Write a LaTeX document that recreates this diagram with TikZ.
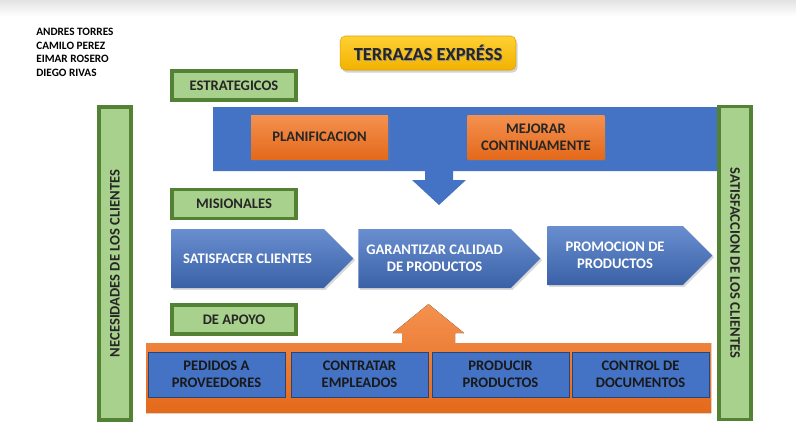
\documentclass[tikz,border=0pt]{standalone}
\usepackage{fontspec}
\setmainfont{Carlito}
\usetikzlibrary{shapes.symbols, shadows}

\definecolor{grpfill}{HTML}{A9D18E}
\definecolor{grpline}{HTML}{548235}
\definecolor{procblue}{HTML}{4472C4}
\definecolor{orangetop}{HTML}{F4914F}
\definecolor{orangebot}{HTML}{E4691B}
\definecolor{yellowtop}{HTML}{FFD034}
\definecolor{yellowbot}{HTML}{F2B200}

\begin{document}
\begin{tikzpicture}[x=0.02cm, y=-0.02cm,
    every node/.style={font=\fontsize{8.3}{9.6}\selectfont\bfseries, align=center, inner sep=0pt},
    group/.style={draw=grpline, fill=grpfill, line width=2.2pt, minimum width=2.48cm, minimum height=0.58cm, text=black!85},
    sidebar/.style={group, minimum width=6.26cm, minimum height=0.64cm},
    orangebox/.style={top color=orangetop, bottom color=orangebot, minimum width=2.74cm, minimum height=0.88cm,
        text=black!85, drop shadow={opacity=0.3, shadow xshift=1pt, shadow yshift=-1pt}},
    chevron/.style={signal, signal to=east, signal pointer angle=90, top color=procblue!80!white,
        bottom color=procblue!85!black, text=white, minimum width=3.64cm, minimum height=1.18cm, anchor=west,
        drop shadow={opacity=0.3, shadow xshift=1pt, shadow yshift=-1pt}},
    supportbox/.style={fill=procblue, draw=procblue!60!black, line width=0.3pt, minimum width=2.74cm,
        minimum height=0.9cm, text=black!90}
]
    \useasboundingbox (0,0) rectangle (796,441);
    \shade[top color=gray!22, bottom color=white] (0,0) rectangle (796,16);

    % team and title
    \node[anchor=north west, align=left, font=\fontsize{6.4}{7.65}\selectfont\bfseries] (team) at (36,28)
        {ANDRES TORRES\\CAMILO PEREZ\\EIMAR ROSERO\\DIEGO RIVAS};
    \node[rounded corners=3pt, top color=yellowtop, bottom color=yellowbot, draw=yellowbot!90!black, line width=0.3pt,
        minimum width=3.52cm, minimum height=0.68cm,
        drop shadow={opacity=0.35, shadow xshift=1pt, shadow yshift=-1.5pt}] (title) at (428,53) {};
    \node[font=\fontsize{10.5}{12}\selectfont\bfseries, text=black!45] (titleshade) at ([shift={(0.8,1)}]title.center) {TERRAZAS EXPRÉSS};
    \node[font=\fontsize{10.5}{12}\selectfont\bfseries, text=black!85] (titletext) at (title.center) {TERRAZAS EXPRÉSS};

    % strategic processes
    \node[group] (estr) at (234,85.5) {ESTRATEGICOS};
    \fill[procblue] (213,107) -- (718,107) -- (718,171) -- (453,171) -- (453,180) -- (466,180) -- (439,205)
        -- (412,180) -- (425,180) -- (425,171) -- (213,171) -- cycle;
    \node[orangebox] (plan) at (319.5,137) {PLANIFICACION};
    \node[orangebox] (mejora) at (536,137) {MEJORAR\\CONTINUAMENTE};

    % mission processes
    \node[group] (mision) at (234,204) {MISIONALES};
    \node[chevron] (satis) at (171,258.5) {SATISFACER CLIENTES};
    \node[chevron] (calidad) at (358,258.5) {GARANTIZAR CALIDAD\\DE PRODUCTOS};
    \node[chevron, minimum width=3.3cm] (promo) at (547,255.5) {PROMOCION DE\\PRODUCTOS};

    % support processes
    \node[group] (apoyo) at (234,319.5) {DE APOYO};
    \fill[top color=orangetop, bottom color=orangebot] (146,343) -- (402,343) -- (402,333) -- (393,333) -- (428.5,304)
        -- (464,333) -- (455,333) -- (455,343) -- (711,343) -- (711,413) -- (146,413) -- cycle;
    \node[supportbox] (pedidos) at (216.5,374.5) {PEDIDOS A\\PROVEEDORES};
    \node[supportbox] (contratar) at (359.5,374.5) {CONTRATAR\\EMPLEADOS};
    \node[supportbox] (producir) at (500.5,374.5) {PRODUCIR\\PRODUCTOS};
    \node[supportbox] (control) at (640.5,374.5) {CONTROL DE\\DOCUMENTOS};

    % side bars
    \node[sidebar, rotate=90] (needs) at (115,263.5) {NECESIDADES DE  LOS CLIENTES};
    \node[sidebar, rotate=-90] (satisf) at (735,263) {SATISFACCION DE LOS CLIENTES};
\end{tikzpicture}
\end{document}
